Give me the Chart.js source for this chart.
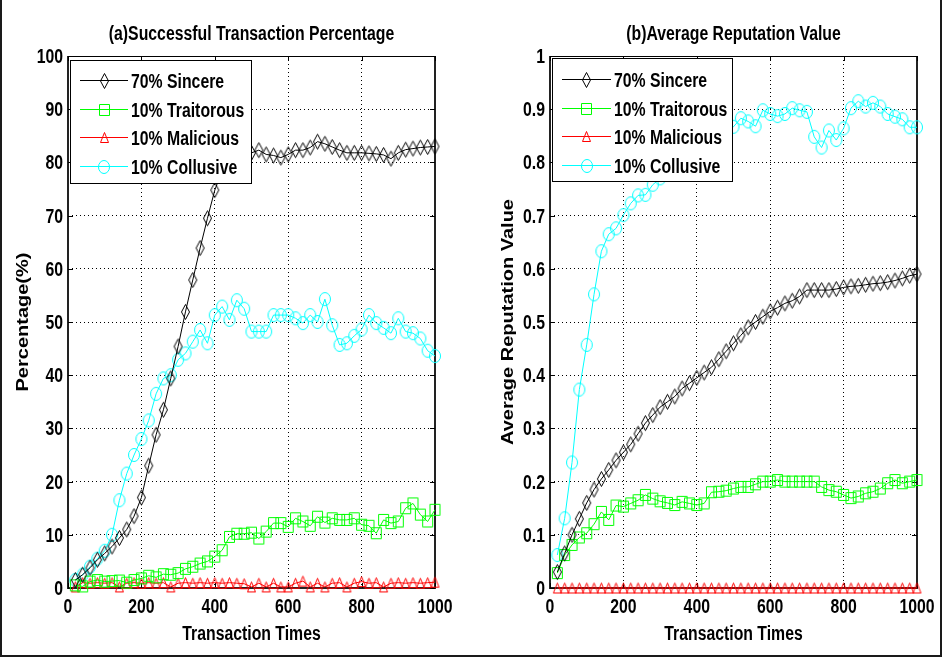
<!DOCTYPE html>
<html>
<head>
<meta charset="utf-8">
<title>Transaction Percentage and Reputation</title>
<script src="https://cdn.jsdelivr.net/npm/chart.js@4/dist/chart.umd.min.js"></script>
<style>
  html, body { margin: 0; padding: 0; background: #fff; }
  #fig { position: relative; width: 942px; height: 657px; overflow: hidden; background: #fff; }
  #fig canvas { position: absolute; top: 0; }
  #frame { position: absolute; left: 0; top: 0; width: 938px; height: 655px;
           border-left: 2px solid #1a1a1a; border-right: 2px solid #1a1a1a; border-bottom: 2px solid #1a1a1a;
           pointer-events: none; }
</style>
</head>
<body>
<div id="fig">
  <canvas id="left" width="471" height="657" style="left:0"></canvas>
  <canvas id="right" width="471" height="657" style="left:471px"></canvas>
  <div id="frame"></div>
</div>
<script>
// Transaction times at which each measurement was taken
const times = [20, 40, 60, 80, 100, 120, 140, 160, 180, 200,
               220, 240, 260, 280, 300, 320, 340, 360, 380, 400,
               420, 440, 460, 480, 500, 520, 540, 560, 580, 600,
               620, 640, 660, 680, 700, 720, 740, 760, 780, 800,
               820, 840, 860, 880, 900, 920, 940, 960, 980, 1000];

const seriesNames = ['70% Sincere', '10% Traitorous', '10% Malicious', '10% Collusive'];

// (a) successful transaction percentage (%)
const sincerePct = [1.5, 2.5, 3.8, 5.3, 6.5, 7.8, 9.4, 11.0, 13.5, 17.0,
                    23.0, 28.8, 33.5, 39.4, 45.4, 51.9, 57.9, 63.9, 69.5, 74.8,
                    78.5, 80.8, 81.5, 82.0, 81.8, 82.3, 81.5, 81.3, 80.9, 81.5,
                    82.3, 82.3, 82.8, 83.9, 83.5, 82.9, 82.3, 81.8, 81.8, 81.8,
                    81.7, 81.6, 81.4, 80.7, 81.8, 82.4, 82.6, 82.8, 82.9, 83.0];
const traitorousPct = [0.5, 0.3, 1.2, 1.5, 1.2, 1.3, 1.4, 1.0, 1.5, 1.8,
                       2.3, 2.0, 2.6, 2.5, 2.8, 3.6, 4.0, 4.6, 5.0, 5.9,
                       7.1, 9.6, 10.2, 10.2, 10.4, 9.3, 10.6, 12.2, 12.2, 11.5,
                       13.1, 12.5, 11.7, 13.4, 12.3, 13.1, 12.8, 12.8, 13.1, 11.9,
                       11.7, 10.3, 12.8, 12.2, 12.5, 15.0, 15.9, 13.8, 12.5, 14.7];
const maliciousPct = [0.2, 1.0, 0.9, 1.0, 0.9, 1.0, 0.2, 0.9, 1.0, 0.9,
                      1.0, 0.9, 1.0, 0.2, 0.9, 1.0, 0.9, 1.0, 0.9, 1.0,
                      0.9, 1.0, 0.9, 0.8, 0.2, 0.9, 0.2, 0.9, 0.2, 0.2,
                      0.9, 1.3, 0.2, 0.9, 0.2, 0.9, 1.0, 0.2, 0.9, 1.2,
                      0.9, 1.0, 0.2, 0.9, 1.0, 0.9, 1.0, 0.9, 1.0, 1.1];
const collusivePct = [1.5, 2.5, 4.0, 5.5, 7.0, 10.0, 16.5, 21.5, 25.0, 28.0,
                      31.5, 36.5, 39.4, 40.0, 42.9, 44.1, 46.3, 48.5, 46.0, 51.3,
                      52.9, 50.4, 54.1, 52.5, 48.2, 48.2, 48.2, 51.3, 51.3, 51.3,
                      50.7, 49.8, 51.3, 50.0, 54.3, 49.4, 45.7, 46.0, 47.4, 48.6,
                      51.3, 49.8, 48.9, 47.9, 50.7, 48.2, 47.9, 46.9, 44.6, 43.6];

// (b) average reputation value
const sincereRep = [0.030, 0.065, 0.100, 0.130, 0.160, 0.185, 0.205, 0.222, 0.240, 0.255,
                    0.270, 0.290, 0.310, 0.325, 0.340, 0.350, 0.360, 0.375, 0.385, 0.395,
                    0.405, 0.415, 0.430, 0.445, 0.460, 0.475, 0.490, 0.500, 0.510, 0.520,
                    0.527, 0.535, 0.540, 0.548, 0.560, 0.560, 0.560, 0.560, 0.562, 0.565,
                    0.567, 0.568, 0.570, 0.572, 0.573, 0.575, 0.578, 0.582, 0.587, 0.590];
const traitorousRep = [0.028, 0.062, 0.081, 0.095, 0.103, 0.120, 0.143, 0.128, 0.155, 0.153,
                       0.159, 0.165, 0.175, 0.168, 0.163, 0.160, 0.156, 0.162, 0.159, 0.156,
                       0.159, 0.180, 0.181, 0.183, 0.187, 0.190, 0.190, 0.195, 0.200, 0.200,
                       0.203, 0.200, 0.200, 0.200, 0.200, 0.200, 0.190, 0.184, 0.181, 0.175,
                       0.169, 0.172, 0.178, 0.181, 0.187, 0.197, 0.203, 0.197, 0.200, 0.203];
const maliciousRep = [0, 0, 0, 0, 0, 0, 0, 0, 0, 0,
                      0, 0, 0, 0, 0, 0, 0, 0, 0, 0,
                      0, 0, 0, 0, 0, 0, 0, 0, 0, 0,
                      0, 0, 0, 0, 0, 0, 0, 0, 0, 0,
                      0, 0, 0, 0, 0, 0, 0, 0, 0, 0];
const collusiveRep = [0.062, 0.131, 0.236, 0.373, 0.457, 0.552, 0.633, 0.665, 0.676, 0.701,
                      0.723, 0.738, 0.739, 0.758, 0.770, 0.785, 0.800, 0.810, 0.820, 0.830,
                      0.840, 0.850, 0.860, 0.868, 0.867, 0.883, 0.877, 0.868, 0.898, 0.891,
                      0.887, 0.891, 0.902, 0.898, 0.895, 0.848, 0.828, 0.860, 0.842, 0.864,
                      0.902, 0.915, 0.905, 0.912, 0.905, 0.891, 0.886, 0.881, 0.866, 0.866];

const xTicks = [0, 200, 400, 600, 800, 1000];
const pctTicks = [0, 10, 20, 30, 40, 50, 60, 70, 80, 90, 100];
const repTicks = [0, 0.1, 0.2, 0.3, 0.4, 0.5, 0.6, 0.7, 0.8, 0.9, 1];

// Narrow bold lettering: a regular sans face squeezed along x
const FONT = 'bold 20px "Liberation Sans", Arial, sans-serif';
const SQUEEZE = 0.79;
const COLORS = ['#000000', '#00ff00', '#ff0000', '#00ffff'];

function drawLabel(ctx, text, x, y, align, vertical) {
  ctx.save();
  ctx.translate(x, y);
  if (vertical) { ctx.rotate(-Math.PI / 2); ctx.scale(1, SQUEEZE); }
  else { ctx.scale(SQUEEZE, 1); }
  ctx.font = FONT;
  ctx.fillStyle = '#000';
  ctx.textAlign = align;
  ctx.textBaseline = 'alphabetic';
  ctx.fillText(text, 0, 0);
  ctx.restore();
}

// Hollow marker glyphs, slightly taller than wide
function makeMarker(shape, color, w, h) {
  const c = document.createElement('canvas');
  c.width = w + 3; c.height = h + 3;
  const g = c.getContext('2d');
  g.strokeStyle = color; g.lineWidth = 1;
  const cx = c.width / 2, cy = c.height / 2;
  g.beginPath();
  if (shape === 'diamond') {
    g.moveTo(cx, cy - h / 2); g.lineTo(cx + w / 2, cy); g.lineTo(cx, cy + h / 2); g.lineTo(cx - w / 2, cy); g.closePath();
  } else if (shape === 'square') {
    g.rect(cx - w / 2, cy - h / 2, w, h);
  } else if (shape === 'triangle') {
    g.moveTo(cx, cy - h / 2); g.lineTo(cx + w / 2, cy + h / 2); g.lineTo(cx - w / 2, cy + h / 2); g.closePath();
  } else {
    g.ellipse(cx, cy, w / 2, h / 2, 0, 0, Math.PI * 2);
  }
  g.stroke();
  return c;
}
const MARKERS = [
  makeMarker('diamond', COLORS[0], 8, 15),
  makeMarker('square', COLORS[1], 10, 11),
  makeMarker('triangle', COLORS[2], 8, 10),
  makeMarker('circle', COLORS[3], 11, 13)
];

// Box, inward ticks, tick labels, axis titles and in-plot legend
function axesPlugin(cfg) {
  return {
    id: 'axesDecor',
    beforeDatasetsDraw(chart) {
      const { ctx, chartArea: a, scales } = chart;
      ctx.save();
      ctx.strokeStyle = '#000';
      ctx.lineWidth = 1;
      ctx.beginPath();
      ctx.moveTo(a.left, a.top + 0.5); ctx.lineTo(a.right, a.top + 0.5);
      ctx.stroke();
      ctx.lineWidth = 2;
      ctx.strokeStyle = '#222';
      ctx.beginPath();
      ctx.moveTo(a.left, a.top); ctx.lineTo(a.left, a.bottom);
      ctx.lineTo(a.right, a.bottom); ctx.lineTo(a.right, a.top);
      ctx.stroke();
      ctx.lineWidth = 1;
      ctx.strokeStyle = '#000';
      ctx.beginPath();
      xTicks.forEach(v => {
        const x = Math.round(scales.x.getPixelForValue(v)) + 0.5;
        ctx.moveTo(x, a.bottom); ctx.lineTo(x, a.bottom - 5);
        ctx.moveTo(x, a.top); ctx.lineTo(x, a.top + 5);
      });
      cfg.yTicks.forEach(v => {
        const y = Math.round(scales.y.getPixelForValue(v)) + 0.5;
        ctx.moveTo(a.left, y); ctx.lineTo(a.left + 5, y);
        ctx.moveTo(a.right, y); ctx.lineTo(a.right - 5, y);
      });
      ctx.stroke();
      ctx.restore();
    },
    afterDatasetsDraw(chart) {
      const { ctx, chartArea: a, scales } = chart;
      const midX = (a.left + a.right) / 2;
      // tick labels
      xTicks.forEach(v => drawLabel(ctx, String(v), scales.x.getPixelForValue(v), a.bottom + 25, 'center'));
      cfg.yTicks.forEach(v => drawLabel(ctx, String(v), a.left - 5, scales.y.getPixelForValue(v) + 7, 'right'));
      // titles
      drawLabel(ctx, cfg.title, midX, 40, 'center');
      drawLabel(ctx, 'Transaction Times', midX, 640, 'center');
      drawLabel(ctx, cfg.yTitle, cfg.yTitleX, (a.top + a.bottom) / 2, 'center', true);
      // legend
      const L = cfg.legend;
      ctx.save();
      ctx.fillStyle = '#fff';
      ctx.fillRect(L.x, L.y, L.w, L.h);
      ctx.strokeStyle = '#000';
      ctx.lineWidth = 1;
      ctx.strokeRect(L.x + 0.5, L.y + 0.5, L.w - 1, L.h - 1);
      chart.data.datasets.forEach((ds, i) => {
        const y = Math.round(L.y + L.rowTop + i * L.rowGap) + 0.5;
        ctx.strokeStyle = ds.borderColor;
        ctx.beginPath();
        ctx.moveTo(L.x + L.lineStart, y); ctx.lineTo(L.x + L.lineEnd, y);
        ctx.stroke();
        const m = ds.pointStyle;
        const mx = L.x + (L.lineStart + L.lineEnd) / 2;
        ctx.drawImage(m, Math.round(mx - m.width / 2), Math.round(y - m.height / 2));
        drawLabel(ctx, ds.label, L.x + L.textX, y + 7, 'left');
      });
      ctx.restore();
    }
  };
}

function buildChart(canvasId, cfg) {
  return new Chart(document.getElementById(canvasId), {
    type: 'line',
    data: {
      datasets: cfg.series.map((vals, i) => ({
        label: seriesNames[i],
        data: times.map((t, k) => ({ x: t, y: vals[k] })),
        borderColor: COLORS[i],
        borderWidth: 1,
        pointStyle: MARKERS[i],
        pointRadius: 5,
        pointHoverRadius: 5,
        fill: false,
        tension: 0,
        clip: false
      }))
    },
    options: {
      responsive: false,
      animation: false,
      devicePixelRatio: 1,
      events: [],
      layout: { padding: { top: 56, right: cfg.padRight, left: 0, bottom: 0 } },
      plugins: { legend: { display: false }, tooltip: { enabled: false }, title: { display: false } },
      scales: {
        x: {
          type: 'linear', min: 0, max: 1000,
          afterBuildTicks(s) { s.ticks = xTicks.map(v => ({ value: v })); },
          afterFit(s) { s.height = 69; },
          ticks: { display: false },
          grid: { color: '#000', lineWidth: 1, drawTicks: false },
          border: { display: false, dash: [1, 3] },
          title: { display: false }
        },
        y: {
          type: 'linear', min: cfg.yMin, max: cfg.yMax,
          afterBuildTicks(s) { s.ticks = cfg.yTicks.map(v => ({ value: v })); },
          afterFit(s) { s.width = cfg.axisWidth; },
          ticks: { display: false },
          grid: { color: '#000', lineWidth: 1, drawTicks: false },
          border: { display: false, dash: [1, 3] },
          title: { display: false }
        }
      }
    },
    plugins: [axesPlugin(cfg)]
  });
}

buildChart('left', {
  series: [sincerePct, traitorousPct, maliciousPct, collusivePct],
  yMin: 0, yMax: 100, yTicks: pctTicks,
  yTitle: 'Percentage(%)', yTitleX: 28,
  title: '(a)Successful Transaction Percentage',
  axisWidth: 68, padRight: 36,
  legend: { x: 70, y: 60, w: 182, h: 124, rowTop: 20, rowGap: 28.5, lineStart: 10, lineEnd: 58, textX: 61 }
});

buildChart('right', {
  series: [sincereRep, traitorousRep, maliciousRep, collusiveRep],
  yMin: 0, yMax: 1, yTicks: repTicks,
  yTitle: 'Average Reputation Value', yTitleX: 42,
  title: '(b)Average Reputation Value',
  axisWidth: 79, padRight: 25,
  legend: { x: 81, y: 58, w: 181, h: 124, rowTop: 21, rowGap: 28.5, lineStart: 10, lineEnd: 59, textX: 62 }
});
</script>
</body>
</html>
